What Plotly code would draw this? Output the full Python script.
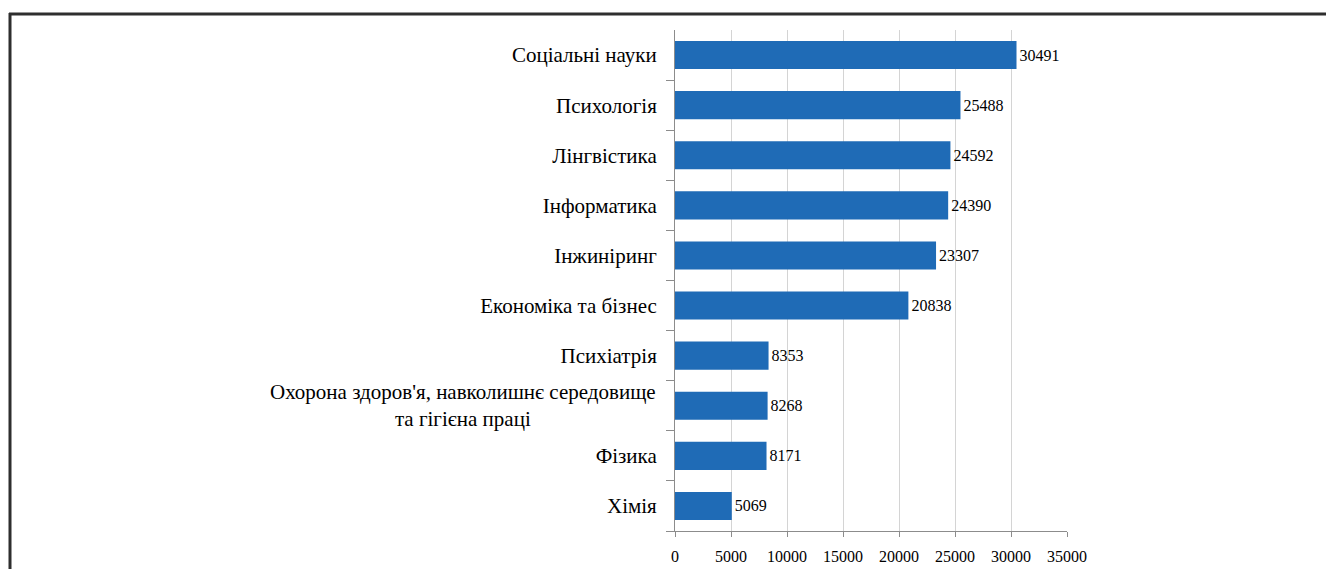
import plotly.graph_objects as go

# Number of records by subject area
categories = [
    "Соціальні науки",
    "Психологія",
    "Лінгвістика",
    "Інформатика",
    "Інжиніринг",
    "Економіка та бізнес",
    "Психіатрія",
    "Охорона здоров'я, навколишнє середовище<br>та гігієна праці",
    "Фізика",
    "Хімія",
]
values = [30491, 25488, 24592, 24390, 23307, 20838, 8353, 8268, 8171, 5069]
x_ticks = [0, 5000, 10000, 15000, 20000, 25000, 30000, 35000]

W, H = 1326, 569
M_L, M_R, M_T, M_B = 675, 259, 30, 38
plot_w = W - M_L - M_R
plot_h = H - M_T - M_B

FONT = "Liberation Serif"
BAR = "#1f6bb6"

# The two-line label is drawn as a centred annotation; the rest are tick labels
long_label = categories[7]
tick_text = ["" if c == long_label else c for c in categories]

fig = go.Figure(
    go.Bar(
        y=categories,
        x=values,
        orientation="h",
        marker=dict(color=BAR, line=dict(width=0)),
        width=0.56,
        text=[str(v) for v in values],
        textposition="outside",
        textfont=dict(family=FONT, size=16, color="#000000"),
        cliponaxis=False,
    )
)

fig.update_layout(
    width=W,
    height=H,
    margin=dict(l=M_L, r=M_R, t=M_T, b=M_B, pad=0, autoexpand=False),
    plot_bgcolor="#ffffff",
    paper_bgcolor="#ffffff",
    showlegend=False,
    font=dict(family=FONT, color="#000000"),
    xaxis=dict(
        range=[0, 35000],
        tickmode="array",
        tickvals=x_ticks,
        ticktext=[str(t) for t in x_ticks],
        showgrid=True,
        gridcolor="#d4d4d4",
        gridwidth=1,
        zeroline=False,
        showline=True,
        linecolor="#8c8c8c",
        linewidth=1,
        ticks="outside",
        ticklen=5,
        tickcolor="#8c8c8c",
        tickfont=dict(family=FONT, size=16, color="#000000"),
        ticklabelstandoff=6,
        automargin=False,
    ),
    yaxis=dict(
        categoryorder="array",
        categoryarray=categories[::-1],
        tickmode="array",
        tickvals=categories,
        ticktext=tick_text,
        tickson="boundaries",
        ticks="outside",
        ticklen=8,
        tickcolor="#8c8c8c",
        showline=True,
        linecolor="#8c8c8c",
        linewidth=1,
        showgrid=False,
        tickfont=dict(family=FONT, size=21, color="#000000"),
        ticklabelstandoff=13,
        automargin=False,
    ),
)

fig.add_annotation(
    x=-17 / plot_w,
    xref="paper",
    y=long_label,
    yref="y",
    xanchor="right",
    yanchor="middle",
    align="center",
    text=long_label,
    showarrow=False,
    font=dict(family=FONT, size=21, color="#000000"),
)

# Frame lines along the top and left edges
def px_x(px):
    return (px - M_L) / plot_w

def px_y(py):
    return (H - M_B - py) / plot_h

fig.add_shape(type="line", xref="paper", yref="paper",
              x0=px_x(9), x1=px_x(W + 5), y0=px_y(14), y1=px_y(14),
              line=dict(color="#2e2e2e", width=3))
fig.add_shape(type="line", xref="paper", yref="paper",
              x0=px_x(10), x1=px_x(10), y0=px_y(13), y1=px_y(H + 5),
              line=dict(color="#2e2e2e", width=3))

fig.write_html("out.html")
